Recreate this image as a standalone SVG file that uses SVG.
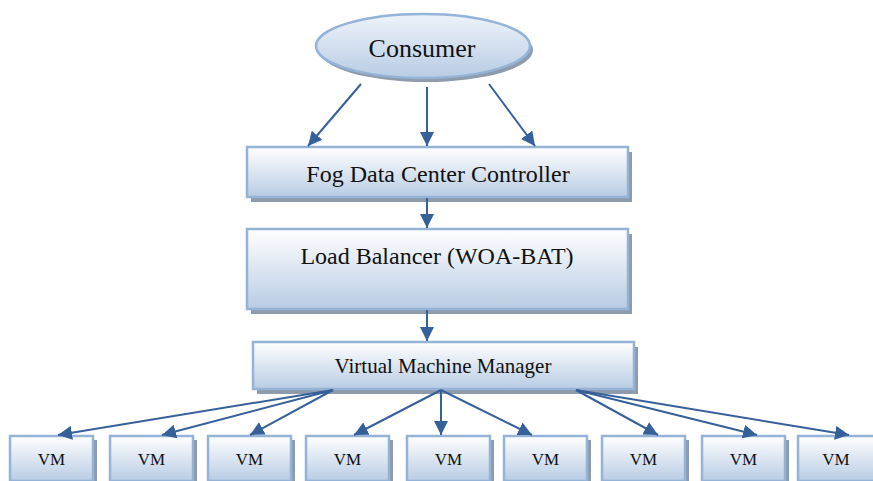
<svg xmlns="http://www.w3.org/2000/svg" width="873" height="481" viewBox="0 0 873 481">
<defs>
<linearGradient id="boxGrad" x1="0" y1="0" x2="0" y2="1">
<stop offset="0" stop-color="#ffffff"/>
<stop offset="1" stop-color="#b8cce4"/>
</linearGradient>
<linearGradient id="ellGrad" x1="0" y1="0" x2="0" y2="1">
<stop offset="0" stop-color="#eef3fa"/>
<stop offset="1" stop-color="#b8cce4"/>
</linearGradient>
<marker id="arrow" markerUnits="userSpaceOnUse" markerWidth="14" markerHeight="14" refX="14" refY="7" orient="auto">
<path d="M0,0 L14,7 L0,14 z" fill="#36609a"/>
</marker>
</defs>
<style>
.box{fill:url(#boxGrad);stroke:#95b3d7;stroke-width:2.5}
.shadow{fill:#8e9bad}
.txt{font-family:"Liberation Serif","Times New Roman",serif;fill:#111;text-anchor:middle}
.conn line{stroke:#36609a;stroke-width:2;marker-end:url(#arrow)}
</style>
<rect width="873" height="481" fill="#ffffff"/>

<g id="consumer">
<ellipse cx="426" cy="50" rx="107" ry="32" class="shadow"/>
<ellipse cx="423" cy="46" rx="107" ry="32" fill="url(#ellGrad)" stroke="#95b3d7" stroke-width="2.5"/>
<text x="422" y="57" class="txt" font-size="26">Consumer</text>
</g>

<g id="fog-controller">
<rect x="251" y="152" width="381" height="50" class="shadow"/>
<rect x="247" y="147" width="381" height="50" class="box"/>
<text x="438" y="182" class="txt" font-size="24">Fog Data Center Controller</text>
</g>

<g id="load-balancer">
<rect x="251" y="234" width="381" height="80" class="shadow"/>
<rect x="247" y="229" width="381" height="80" class="box"/>
<text x="437" y="264" class="txt" font-size="24">Load Balancer (WOA-BAT)</text>
</g>

<g id="vm-manager">
<rect x="257" y="347" width="381" height="47" class="shadow"/>
<rect x="253" y="342" width="381" height="47" class="box"/>
<text x="443" y="373" class="txt" font-size="21">Virtual Machine Manager</text>
</g>

<g id="vm1"><rect x="14" y="440" width="83" height="45" class="shadow"/><rect x="10" y="436" width="83" height="45" class="box"/><text x="51.5" y="465" class="txt" font-size="17">VM</text></g>
<g id="vm2"><rect x="114" y="440" width="83" height="45" class="shadow"/><rect x="110" y="436" width="83" height="45" class="box"/><text x="151.5" y="465" class="txt" font-size="17">VM</text></g>
<g id="vm3"><rect x="212" y="440" width="83" height="45" class="shadow"/><rect x="208" y="436" width="83" height="45" class="box"/><text x="249.5" y="465" class="txt" font-size="17">VM</text></g>
<g id="vm4"><rect x="310" y="440" width="83" height="45" class="shadow"/><rect x="306" y="436" width="83" height="45" class="box"/><text x="347.5" y="465" class="txt" font-size="17">VM</text></g>
<g id="vm5"><rect x="411" y="440" width="83" height="45" class="shadow"/><rect x="407" y="436" width="83" height="45" class="box"/><text x="448.5" y="465" class="txt" font-size="17">VM</text></g>
<g id="vm6"><rect x="508" y="440" width="83" height="45" class="shadow"/><rect x="504" y="436" width="83" height="45" class="box"/><text x="545.5" y="465" class="txt" font-size="17">VM</text></g>
<g id="vm7"><rect x="606" y="440" width="83" height="45" class="shadow"/><rect x="602" y="436" width="83" height="45" class="box"/><text x="643.5" y="465" class="txt" font-size="17">VM</text></g>
<g id="vm8"><rect x="706" y="440" width="83" height="45" class="shadow"/><rect x="702" y="436" width="83" height="45" class="box"/><text x="743.5" y="465" class="txt" font-size="17">VM</text></g>
<g id="vm9"><rect x="802" y="440" width="83" height="45" class="shadow"/><rect x="798" y="436" width="83" height="45" class="box"/><text x="836" y="465" class="txt" font-size="17">VM</text></g>

<g id="connectors" class="conn">
<line x1="361" y1="84" x2="308" y2="146"/>
<line x1="427" y1="87" x2="427" y2="146"/>
<line x1="489" y1="84" x2="535" y2="146"/>
<line x1="427" y1="198" x2="427" y2="228"/>
<line x1="427" y1="310" x2="427" y2="341"/>
<line x1="333" y1="390" x2="58" y2="435"/>
<line x1="333" y1="390" x2="162" y2="435"/>
<line x1="333" y1="390" x2="250" y2="435"/>
<line x1="441" y1="390" x2="354" y2="435"/>
<line x1="441" y1="390" x2="441" y2="435"/>
<line x1="441" y1="390" x2="532" y2="435"/>
<line x1="576" y1="390" x2="658" y2="435"/>
<line x1="576" y1="390" x2="757" y2="435"/>
<line x1="576" y1="390" x2="849" y2="435"/>
</g>
</svg>
